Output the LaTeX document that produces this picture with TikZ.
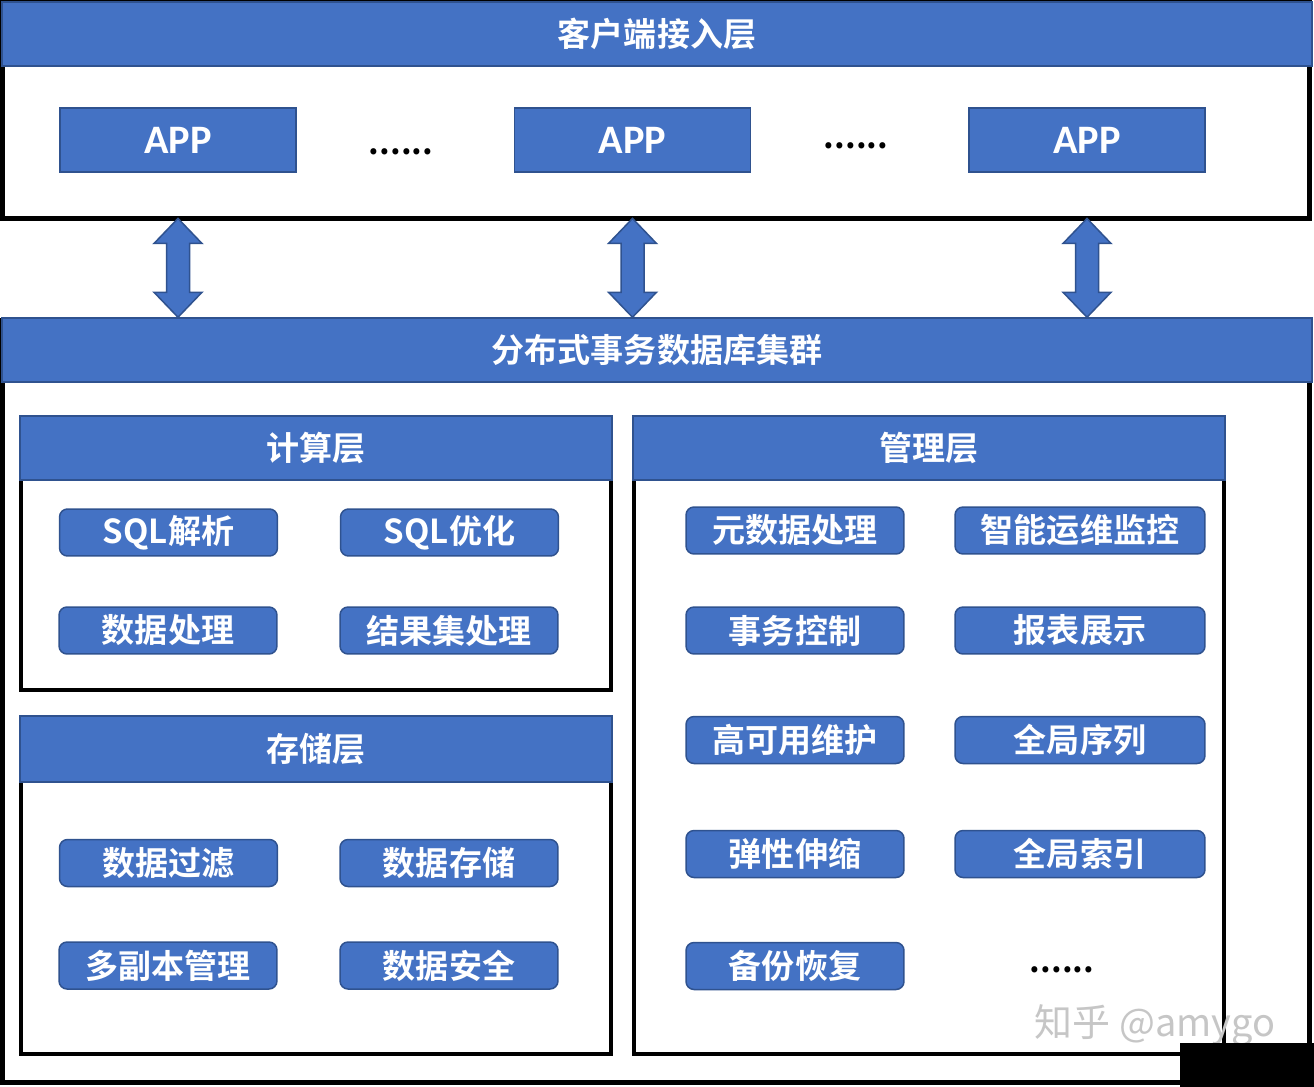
\documentclass[tikz,border=0pt]{standalone}
\usepackage{fontspec}
\setmainfont{Noto Sans CJK SC}[BoldFont={Noto Sans CJK SC Bold}]
\newfontfamily\appfont{Carlito}
\definecolor{boxblue}{HTML}{4472C4}
\definecolor{edgeblue}{HTML}{2F528F}

\newcommand\dblarrow[2]{%
  \draw[blockarrow] (#1) -- ([shift={(24,25)}]#1) -- ([shift={(11.5,25)}]#1)
    -- ([shift={(11.5,-25)}]#2) -- ([shift={(24,-25)}]#2) -- (#2)
    -- ([shift={(-24,-25)}]#2) -- ([shift={(-11.5,-25)}]#2)
    -- ([shift={(-11.5,25)}]#1) -- ([shift={(-24,25)}]#1) -- cycle;}

\begin{document}
\begin{tikzpicture}[x=0.02cm,y=-0.02cm,
  frame/.style={draw=black,line width=0.1cm,inner sep=0pt,outer sep=0pt},
  subframe/.style={frame,line width=0.08cm},
  band/.style={fill=boxblue,draw=edgeblue,line width=0.03cm,inner sep=0pt,
    text=white,font=\bfseries\fontsize{18.8}{22}\selectfont},
  appbox/.style={band,minimum width=4.72cm,minimum height=1.28cm,
    font=\appfont\bfseries\fontsize{23}{26}\selectfont},
  btn/.style={band,rounded corners=0.16cm,minimum width=4.36cm,minimum height=0.94cm},
  widebtn/.style={btn,minimum width=5cm},
  dots/.style={inner sep=0pt,font=\bfseries\fontsize{18.8}{22}\selectfont},
  blockarrow/.style={fill=boxblue,draw=edgeblue,line width=0.03cm}]
\fill[white] (0,0) rectangle (1314,1087);
\useasboundingbox (0,0) rectangle (1314,1087);

% client layer
\node[frame,minimum width=26.16cm,minimum height=4.32cm] (client) at (656,110.5) {};
\node[band,minimum width=26.2cm,minimum height=1.28cm] (clienthead) at (657,34) {客户端接入层};
\node[appbox] (app1) at (178,140) {APP};
\node[appbox] (app2) at (632.5,140) {APP};
\node[appbox] (app3) at (1087,140) {APP};
\node[dots] (gap1) at (401,152) {......};
\node[dots] (gap2) at (856,146) {......};

% cluster
\node[frame,minimum width=26.16cm,minimum height=15.26cm] (cluster) at (656,701.5) {};
\node[band,minimum width=26.2cm,minimum height=1.28cm] (clusterhead) at (657,350) {分布式事务数据库集群};

% compute layer
\node[subframe,minimum width=11.8cm,minimum height=5.44cm] (calc) at (316,554) {};
\node[band,minimum width=11.84cm,minimum height=1.28cm] (calchead) at (316,448) {计算层};
\node[btn] (parse) at (168.5,532.5) {SQL解析};
\node[btn] (optim) at (449.5,532.5) {SQL优化};
\node[btn] (proc) at (168,630.5) {数据处理};
\node[btn] (result) at (449,630.5) {结果集处理};

% storage layer
\node[subframe,minimum width=11.8cm,minimum height=6.72cm] (store) at (316,886) {};
\node[band,minimum width=11.84cm,minimum height=1.32cm] (storehead) at (316,749) {存储层};
\node[btn] (filter) at (168.5,863) {数据过滤};
\node[btn] (keep) at (449,863) {数据存储};
\node[btn] (replica) at (168,965.5) {多副本管理};
\node[btn] (secure) at (449,965.5) {数据安全};

% management layer
\node[subframe,minimum width=11.8cm,minimum height=12.72cm] (manage) at (929,736) {};
\node[band,minimum width=11.84cm,minimum height=1.28cm] (managehead) at (929,448) {管理层};
\node[btn] (meta) at (795,530.5) {元数据处理};
\node[widebtn] (monitor) at (1080,530.5) {智能运维监控};
\node[btn] (trans) at (795,630.5) {事务控制};
\node[widebtn] (report) at (1080,630.5) {报表展示};
\node[btn] (ha) at (795,740) {高可用维护};
\node[widebtn] (seq) at (1080,740) {全局序列};
\node[btn] (scale) at (795,854) {弹性伸缩};
\node[widebtn] (index) at (1080,854) {全局索引};
\node[btn] (backup) at (795,966) {备份恢复};
\node[dots] (gap3) at (1062,970) {......};

% links
\foreach \i in {1,2,3} {
  \coordinate (t\i) at (app\i.south |- client.south);
  \coordinate (b\i) at (app\i.south |- clusterhead.north);
  \dblarrow{t\i}{b\i}
}

\node[text=gray!45,inner sep=0pt,font=\fontsize{21.6}{26}\selectfont] (mark) at (1155,1025) {知乎 @amygo};
\fill[black] (1180,1043) rectangle (1314,1087);
\end{tikzpicture}
\end{document}
